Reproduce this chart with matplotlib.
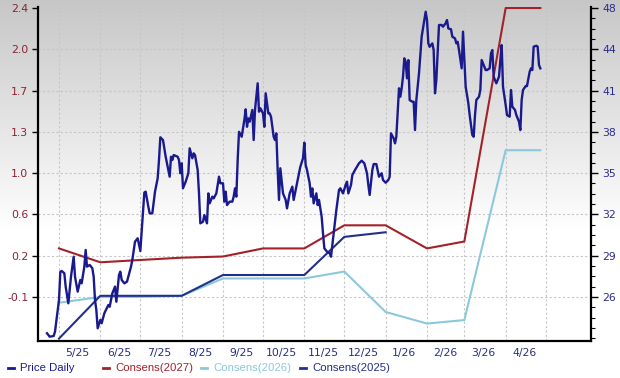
import numpy as np
import pandas as pd
import matplotlib
matplotlib.use('Agg')
import matplotlib.pyplot as plt
from matplotlib.ticker import FixedLocator, AutoMinorLocator
from matplotlib.lines import Line2D

# 日价格: 相对 2025-05-01 的天数 + 收盘价 (右轴)
start = pd.Timestamp('2025-05-01')
price_day = [-9, -7, -4, -3, -1, 0, 1, 2, 4, 5, 7, 9, 11, 12, 14, 16, 17, 19, 20, 21,
             23, 25, 26, 27, 28, 29, 31, 32, 34, 37, 38, 40, 42, 43, 45, 46, 47, 49, 51, 54,
             55, 57, 59, 61, 64, 65, 67, 68, 70, 72, 74, 75, 76, 78, 80, 81, 83, 84, 85, 86,
             89, 90, 91, 92, 93, 95, 97, 98, 100, 101, 102, 104, 105, 106, 108, 109, 111, 112, 113, 115,
             116, 118, 120, 121, 123, 124, 125, 126, 128, 130, 131, 132, 133, 134, 135, 137, 139, 140, 141, 142,
             143, 145, 146, 147, 149, 150, 151, 153, 154, 155, 157, 158, 159, 161, 162, 163, 164, 165, 166, 168,
             170, 171, 173, 175, 176, 178, 180, 181, 183, 184, 185, 186, 188, 189, 190, 191, 193, 194, 195, 197,
             198, 199, 201, 203, 204, 206, 208, 210, 211, 213, 215, 216, 217, 219, 220, 222, 225, 227, 229, 231,
             232, 233, 235, 236, 238, 240, 242, 243, 245, 247, 248, 249, 251, 252, 253, 255, 256, 257, 258, 259,
             260, 261, 262, 263, 265, 266, 267, 268, 270, 272, 275, 276, 277, 278, 280, 281, 282, 283, 285, 287,
             288, 290, 291, 292, 294, 295, 297, 298, 299, 300, 302, 303, 304, 305, 307, 308, 310, 311, 312, 313,
             315, 316, 317, 318, 320, 321, 323, 324, 325, 326, 328, 330, 331, 332, 333, 335, 336, 338, 339, 340,
             342, 343, 345, 346, 347, 348, 350, 351, 353, 354, 355, 356, 358, 359, 360, 361]
price_val = [23.24, 22.98, 23.03, 23.36, 25.01, 25.77, 27.93, 27.98, 27.81, 26.79, 25.52, 27.55, 29.07, 27.55, 26.41, 27.30, 27.04, 28.31, 29.58, 28.31,
             28.44, 28.19, 27.55, 25.77, 25.01, 23.62, 24.25, 24.00, 24.76, 25.39, 25.26, 26.28, 26.79, 25.64, 27.68, 27.93, 27.30, 27.04, 27.17, 28.31,
             28.82, 30.21, 30.47, 29.50, 33.95, 34.02, 32.87, 32.37, 32.37, 34.02, 35.04, 36.43, 38.16, 37.95, 36.68, 36.18, 35.16, 36.68, 36.43, 36.81,
             36.68, 36.43, 35.42, 36.18, 34.28, 34.78, 35.42, 37.32, 36.56, 36.94, 36.81, 35.67, 33.89, 31.61, 31.73, 32.24, 31.61, 33.89, 33.13, 33.64,
             33.51, 33.89, 35.16, 34.66, 34.66, 33.26, 34.02, 33.00, 33.26, 33.26, 33.64, 34.27, 33.64, 36.43, 38.58, 38.20, 39.47, 40.29, 38.96, 39.60,
             39.35, 40.24, 37.95, 40.24, 42.27, 40.11, 40.37, 39.98, 38.96, 41.51, 39.98, 39.98, 39.73, 38.20, 37.95, 38.46, 35.67, 33.39, 35.80, 33.89,
             33.39, 32.75, 33.89, 34.40, 33.39, 34.40, 35.42, 35.92, 36.56, 37.75, 36.05, 35.67, 34.66, 33.64, 34.27, 33.13, 33.89, 33.00, 33.39, 32.11,
             30.85, 29.71, 29.45, 29.33, 29.07, 30.85, 32.62, 34.15, 34.28, 33.89, 34.53, 34.78, 33.89, 34.53, 35.29, 35.67, 36.18, 36.38, 36.18, 35.42,
             34.53, 33.77, 35.67, 36.12, 36.12, 35.16, 35.42, 34.91, 34.70, 34.91, 35.16, 38.46, 38.08, 37.70, 38.20, 41.89, 41.25, 41.89, 42.77, 44.17,
             43.91, 42.65, 44.04, 40.99, 40.87, 40.87, 38.71, 41.00, 43.03, 45.82, 47.72, 47.09, 45.31, 45.05, 45.31, 44.80, 41.51, 42.52, 46.71, 46.71,
             46.58, 46.84, 47.09, 46.45, 46.38, 45.82, 45.69, 45.31, 45.43, 44.80, 43.41, 46.20, 44.04, 42.01, 40.75, 39.85, 38.33, 38.20, 39.85, 41.00,
             41.25, 41.76, 44.04, 43.79, 43.28, 43.28, 43.41, 44.55, 44.80, 42.77, 42.27, 42.77, 44.04, 45.18, 42.01, 40.62, 39.85, 39.73, 41.76, 40.49,
             40.24, 39.85, 39.35, 38.71, 41.00, 41.76, 42.06, 42.06, 43.15, 43.41, 43.28, 45.06, 45.13, 45.06, 43.66, 43.41]

# 一致预期 EPS (左轴)
cons_dates = ['2025-05-01', '2025-06-01', '2025-07-01', '2025-08-01', '2025-09-01', '2025-10-01', '2025-11-01',
              '2025-12-01', '2026-01-01', '2026-02-01', '2026-03-01', '2026-04-01', '2026-04-27']
cons_2027 = [0.32, 0.20, 0.22, 0.24, 0.25, 0.32, 0.32, 0.52, 0.52, 0.32, 0.38, 2.40, 2.40]
cons_2026 = [-0.15, -0.10, -0.10, -0.09, 0.06, 0.06, 0.06, 0.12, -0.23, -0.33, -0.30, 1.17, 1.17]
cons_2025 = [-0.46, -0.09, -0.09, -0.09, 0.09, 0.09, 0.09, 0.42, 0.46]

left_labels = ['-0.1', '0.2', '0.6', '1.0', '1.3', '1.7', '2.0', '2.4']
right_labels = ['26', '29', '32', '35', '38', '41', '44', '48']
month_labels = ['5/25', '6/25', '7/25', '8/25', '9/25', '10/25', '11/25', '12/25', '1/26', '2/26', '3/26', '4/26']
legend_labels = ['Price Daily', 'Consens(2027)', 'Consens(2026)', 'Consens(2025)']

NAVY = '#1a1a8e'
RED = '#a3222a'
LIGHT = '#8cc8dc'
NAVY2 = '#22308a'
GRID = '#c6c6c6'

fig = plt.figure(figsize=(6.2, 3.78), dpi=100)

# 背景渐变 (上灰下白)
bg = fig.add_axes([0, 0, 1, 1], zorder=-10)
rows = np.arange(378)
shade = 0.78 + 0.22 * np.clip(rows / 230.0, 0, 1)
img = np.repeat(shade[:, None, None], 2, axis=1).repeat(3, axis=2)
bg.imshow(img, aspect='auto', extent=[0, 1, 0, 1], origin='upper')
bg.axis('off')

ax = fig.add_axes([38 / 620, 1 - 341 / 378, (591 - 38) / 620, (341 - 7) / 378])
ax.set_facecolor('none')
ax2 = ax.twinx()
ax2.set_facecolor('none')

cd = pd.to_datetime(cons_dates)
ax.plot(cd, cons_2027, color=RED, lw=1.5)
ax.plot(cd, cons_2026, color=LIGHT, lw=1.5)
ax.plot(cd[:len(cons_2025)], cons_2025, color=NAVY2, lw=1.5)

pdates = start + pd.to_timedelta(price_day, unit='D')
ax2.plot(pdates, price_val, color=NAVY, lw=1.7)

ax.set_xlim(start - pd.Timedelta(days=15.75), start + pd.Timedelta(days=399))
ax.set_ylim(-0.481, 2.409)
ax2.set_ylim(22.65, 48.08)

# 坐标轴刻度
ax.set_yticks(np.linspace(-0.1, 2.4, 8))
ax.set_yticklabels(left_labels)
ax2.set_yticks(np.linspace(26, 48, 8))
ax2.set_yticklabels(right_labels)
ax2.yaxis.set_minor_locator(AutoMinorLocator(4))

month_starts = pd.date_range('2025-05-01', '2026-05-01', freq='MS')
mid_months = month_starts[:-1] + pd.Timedelta(days=14)
ax.xaxis.set_major_locator(FixedLocator(matplotlib.dates.date2num(mid_months)))
ax.xaxis.set_minor_locator(FixedLocator(matplotlib.dates.date2num(month_starts)))
ax.set_xticklabels(month_labels)

ax.grid(axis='y', which='major', color=GRID, ls=(0, (2, 2)), lw=0.8)
ax.grid(axis='x', which='minor', color=GRID, ls=(0, (2, 2)), lw=0.8)
ax.set_axisbelow(True)

ax.tick_params(axis='x', which='both', length=0, pad=5, labelsize=7.8, labelcolor='#262f80')
ax.tick_params(axis='y', length=4, width=1, pad=3, labelsize=7.8, labelcolor='#8c2232')
ax2.tick_params(axis='y', which='major', length=5, width=1, pad=3, labelsize=7.8, labelcolor='#2c2c8c')
ax2.tick_params(axis='y', which='minor', length=3, width=0.8)

for a in (ax, ax2):
    a.spines['top'].set_visible(False)
ax.spines['right'].set_visible(False)
ax2.spines['left'].set_visible(False)
ax2.spines['bottom'].set_visible(False)
ax.spines['left'].set_linewidth(1.6)
ax.spines['bottom'].set_linewidth(1.6)
ax2.spines['right'].set_linewidth(1.6)

# 图例 (底部手动绘制)
leg_colors = [NAVY, RED, LIGHT, NAVY2]
leg_x = [8, 103, 201, 300]
ly = 1 - 368 / 378
for lab, c, x0 in zip(legend_labels, leg_colors, leg_x):
    fig.add_artist(Line2D([x0 / 620, (x0 + 6) / 620], [ly, ly], color=c, lw=2, transform=fig.transFigure))
    fig.text((x0 + 12) / 620, ly, lab, color=c, fontsize=8.2, family='Liberation Sans', va='center', ha='left')

fig.savefig('out.png', dpi=100)
